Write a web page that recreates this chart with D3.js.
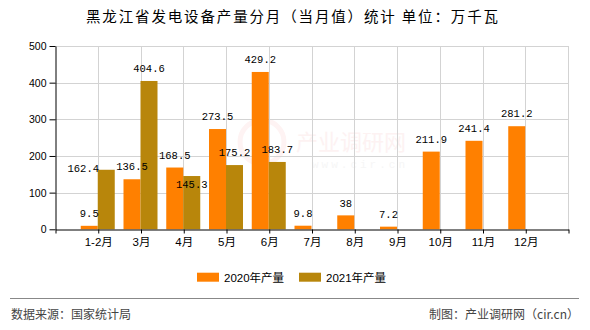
<!DOCTYPE html>
<html>
<head>
<meta charset="utf-8">
<script src="https://cdn.jsdelivr.net/npm/d3@7"></script>
<style>
  html, body { margin: 0; padding: 0; background: #fff; }
  svg { display: block; }
</style>
</head>
<body>
<svg id="chart" width="590" height="330"></svg>
<script>
const categories = ["1-2月", "3月", "4月", "5月", "6月", "7月", "8月", "9月", "10月", "11月", "12月"];
const values2020 = [9.5, 136.5, 168.5, 273.5, 429.2, 9.8, 38, 7.2, 211.9, 241.4, 281.2];
const values2021 = [162.4, 404.6, 145.3, 175.2, 183.7, null, null, null, null, null, null];
const seriesNames = ["2020年产量", "2021年产量"];
const yTicks = [0, 100, 200, 300, 400, 500];
const titleText = "黑龙江省发电设备产量分月（当月值）统计 单位：万千瓦";
const sourceText = "数据来源：国家统计局";
const creditText = "制图：产业调研网（cir.cn）";

(function () {
const colors = ["#FF8000", "#B8860B"];
const svg = d3.select("#chart");

const pLeft = 55, pRight = 568, pTop = 46, pBottom = 229.3;
const domain = [""].concat(categories).concat([" "]);
const x = d3.scalePoint().domain(domain).range([pLeft, pRight]).padding(0);
const y = d3.scaleLinear().domain([0, 500]).range([pBottom, pTop]);
const barW = 17;

// watermark (very faint)
svg.append("text").attr("x", 296).attr("y", 150)
  .attr("font-family", "Noto Sans CJK SC").attr("font-size", 22)
  .attr("fill", "#fdf2f2").text("产业调研网");
svg.append("text").attr("x", 312).attr("y", 168)
  .attr("font-family", "Liberation Mono").attr("font-size", 11)
  .attr("letter-spacing", 3).attr("fill", "#f6f6f6").text("www.cir.cn");
svg.append("circle").attr("cx", 262).attr("cy", 142).attr("r", 22)
  .attr("fill", "none").attr("stroke", "#fef3f3").attr("stroke-width", 5);

// grid
const g = svg.append("g");
g.selectAll("line.hg").data(yTicks.filter(d => d > 0)).join("line")
  .attr("x1", pLeft).attr("x2", pRight)
  .attr("y1", d => Math.round(y(d)) + 0.5).attr("y2", d => Math.round(y(d)) + 0.5)
  .attr("stroke", "#d3d3d3");
g.selectAll("line.vg").data(domain.slice(1)).join("line")
  .attr("x1", d => Math.round(x(d)) + 0.5).attr("x2", d => Math.round(x(d)) + 0.5)
  .attr("y1", pTop).attr("y2", pBottom)
  .attr("stroke", "#d3d3d3");

// bars
const series = [values2020, values2021];
series.forEach((vals, si) => {
  svg.append("g").selectAll("rect").data(categories.map((c, i) => ({c, v: vals[i]})).filter(d => d.v != null))
    .join("rect")
    .attr("x", d => x(d.c) + (si === 0 ? -barW : 0))
    .attr("y", d => y(d.v))
    .attr("width", barW)
    .attr("height", d => y(0) - y(d.v))
    .attr("fill", colors[si]);
});

// axes
const yAxis = svg.append("g").attr("transform", `translate(${pLeft + 0.5},0)`)
  .call(d3.axisLeft(y).tickValues(yTicks).tickSize(6).tickPadding(3).tickSizeOuter(0));
yAxis.select(".domain").attr("stroke", "#000");
yAxis.selectAll(".tick line").attr("stroke", "#000");
yAxis.selectAll("text").attr("font-family", "Liberation Sans, Arial, sans-serif").attr("font-size", 10.5).attr("fill", "#000");

const xAxis = svg.append("g").attr("transform", `translate(0.5,${Math.round(pBottom) + 0.5})`)
  .call(d3.axisBottom(x).tickSize(4).tickPadding(4).tickSizeOuter(0));
xAxis.select(".domain").attr("stroke", "#000");
xAxis.selectAll(".tick line").attr("stroke", "#000");
xAxis.selectAll("text").attr("font-family", "Liberation Sans, Noto Sans CJK SC, sans-serif").attr("font-size", 11.5).attr("fill", "#000");

// value labels
const adjust = { "1-0": [-23, 11.5], "1-2": [0, 20.8] };
series.forEach((vals, si) => {
  svg.append("g").selectAll("text").data(categories.map((c, i) => ({c, i, v: vals[i]})).filter(d => d.v != null))
    .join("text")
    .attr("x", d => x(d.c) + (si === 0 ? -barW / 2 : barW / 2) + ((adjust[si + "-" + d.i] || [0, 0])[0]))
    .attr("y", d => y(d.v) - 12.5 + ((adjust[si + "-" + d.i] || [0, 0])[1]))
    .attr("dy", "0.35em")
    .attr("text-anchor", "middle")
    .attr("font-family", "Liberation Mono, DejaVu Sans Mono, monospace")
    .attr("font-size", 10.5)
    .attr("fill", "#000")
    .text(d => d.v);
});

// title
svg.append("text").attr("x", 86).attr("y", 22)
  .attr("font-family", "Noto Sans CJK SC").attr("font-size", 14.5)
  .attr("textLength", 412).attr("lengthAdjust", "spacing")
  .attr("fill", "#000").text(titleText);

// legend
const legendX = [197, 299];
seriesNames.forEach((n, i) => {
  svg.append("rect").attr("x", legendX[i]).attr("y", 272.7).attr("width", 22).attr("height", 9).attr("fill", colors[i]);
  svg.append("text").attr("x", legendX[i] + 27).attr("y", 277.5).attr("dy", "0.35em")
    .attr("font-family", "Liberation Sans, Noto Sans CJK SC, sans-serif").attr("font-size", 11.5)
    .attr("fill", "#000").text(n);
});

// footer
svg.append("line").attr("x1", 10).attr("x2", 579).attr("y1", 298.5).attr("y2", 298.5).attr("stroke", "#888");
svg.append("text").attr("x", 11).attr("y", 315).attr("dy", "0.35em")
  .attr("font-family", "Noto Sans CJK SC").attr("font-size", 12).attr("fill", "#444").text(sourceText);
svg.append("text").attr("x", 579).attr("y", 315).attr("dy", "0.35em").attr("text-anchor", "end")
  .attr("font-family", "Noto Sans CJK SC").attr("font-size", 12).attr("fill", "#444").text(creditText);
})();
</script>
</body>
</html>
